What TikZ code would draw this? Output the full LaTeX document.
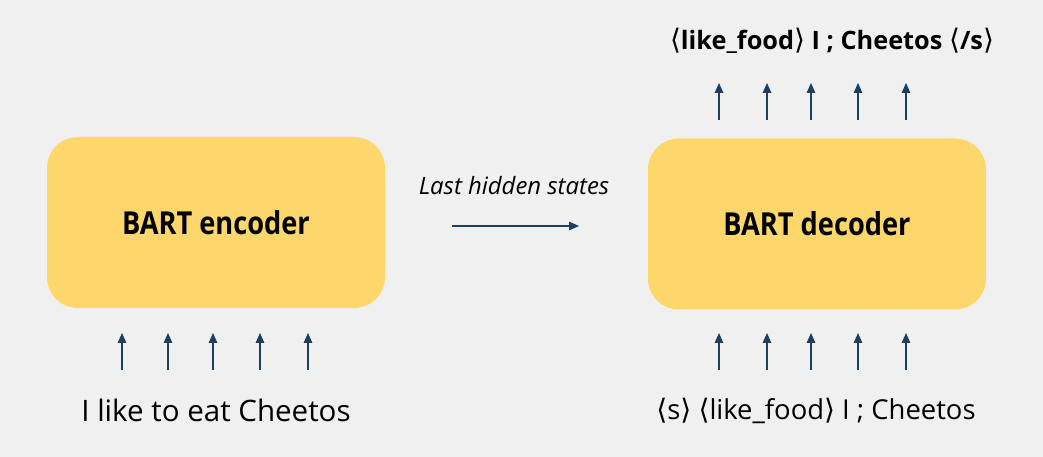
\documentclass[tikz,border=0pt]{standalone}
\usepackage{fontspec}
\setmainfont{Open Sans}
\newfontfamily\boxfont[FakeStretch=0.86]{Open Sans}
\newfontfamily\brfont{DejaVu Sans}
\usetikzlibrary{arrows.meta, calc}
\definecolor{bgray}{HTML}{F0F0F0}
\definecolor{byellow}{HTML}{FDD76C}
\definecolor{bnavy}{HTML}{1E3F5E}
\newcommand{\la}{{\brfont\mdseries\fontsize{20}{20}\selectfont\char"27E8}}
\newcommand{\ra}{{\brfont\mdseries\fontsize{20}{20}\selectfont\char"27E9}}
\tikzset{
    my-bart-box/.style={
        fill=byellow, rounded corners=22pt, minimum width=338*0.025cm,
        minimum height=171*0.025cm, font=\boxfont\bfseries\fontsize{22.5}{26}\selectfont
    },
    my-token-arrow/.style={
        draw=bnavy, line width=0.8pt, -{Triangle[length=7pt, width=6pt]}
    },
    my-tokens/.style={
        font=\fontsize{19.5}{24}\selectfont, inner sep=0pt
    },
}
\begin{document}
\begin{tikzpicture}[x=0.025cm, y=-0.025cm]

        % BACKGROUND
        \fill[bgray] (0,0) rectangle (1043,457);
        \useasboundingbox (0,0) rectangle (1043,457);

        % ENCODER, DECODER
        \node[my-bart-box] (ENC) at (216,222.5) {BART encoder};
        \node[my-bart-box] (DEC) at (817,224)   {BART decoder};

        % TEXTS
        \node[my-tokens, font=\fontsize{21}{24}\selectfont]
                         (ENCTXT)  at (216,410) {I like to eat Cheetos};
        \node[my-tokens] (DECTXT)  at (816,411) {\la s\ra{} \la like\_food\ra{} I ; Cheetos};
        \node[my-tokens, font=\fontsize{18}{22}\selectfont\bfseries]
                         (DECOUT)  at (832,41)  {\la like\_food\ra{} I ; Cheetos \la/s\ra};
        \node[font=\fontsize{17}{20}\selectfont\itshape]
                         (HIDDEN)  at (514,186) {Last hidden states};

        % HIDDEN STATE CONNECTOR
        \coordinate (HIDIN)  at (452,226);
        \coordinate (HIDOUT) at (579,226);
        \draw[my-token-arrow] (HIDIN) -- (HIDOUT);

        % ENCODER INPUT ARROWS
        \foreach \i/\x in {1/122, 2/168, 3/213, 4/260, 5/308} {
            \coordinate (ENCIN\i)  at (\x,370);
            \coordinate (ENCTIP\i) at (\x,333);
            \draw[my-token-arrow] (ENCIN\i) -- (ENCTIP\i);
        }

        % DECODER INPUT AND OUTPUT ARROWS
        \foreach \i/\x in {1/719, 2/767, 3/811, 4/858, 5/906} {
            \coordinate (DECIN\i)   at (\x,370);
            \coordinate (DECTIP\i)  at (\x,333);
            \coordinate (DECOUT\i)  at (\x,120);
            \coordinate (DECOTIP\i) at (\x,83);
            \draw[my-token-arrow] (DECIN\i)  -- (DECTIP\i);
            \draw[my-token-arrow] (DECOUT\i) -- (DECOTIP\i);
        }

    \end{tikzpicture}
\end{document}
